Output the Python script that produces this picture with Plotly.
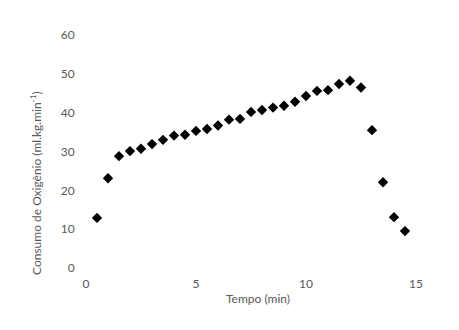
import plotly.graph_objects as go

# Oxygen uptake measured every 30 s during the test
tempo_min = [0.5, 1.0, 1.5, 2.0, 2.5, 3.0, 3.5, 4.0, 4.5, 5.0,
             5.5, 6.0, 6.5, 7.0, 7.5, 8.0, 8.5, 9.0, 9.5, 10.0,
             10.5, 11.0, 11.5, 12.0, 12.5, 13.0, 13.5, 14.0, 14.5]
consumo_o2 = [12.9, 23.1, 28.8, 30.1, 30.7, 31.9, 33.0, 34.1, 34.3, 35.3,
              35.8, 36.7, 38.2, 38.4, 40.2, 40.7, 41.3, 41.8, 42.8, 44.3,
              45.6, 45.8, 47.4, 48.2, 46.5, 35.5, 22.1, 13.1, 9.5]

x_ticks = [0, 5, 10, 15]
y_ticks = [0, 10, 20, 30, 40, 50, 60]

font_family = "Lato, Carlito, Calibri, sans-serif"
grey = "#595959"

fig = go.Figure(
    go.Scatter(
        x=tempo_min,
        y=consumo_o2,
        mode="markers",
        marker=dict(symbol="diamond", size=8, color="black", line=dict(width=0)),
        showlegend=False,
    )
)

fig.update_layout(
    width=459,
    height=330,
    margin=dict(l=86, r=43, t=35, b=62),
    paper_bgcolor="white",
    plot_bgcolor="white",
    font=dict(family=font_family, size=12, color=grey),
    xaxis=dict(
        range=[0, 15],
        tickvals=x_ticks,
        showgrid=False,
        zeroline=False,
        showline=False,
        ticks="outside",
        ticklen=5,
        tickcolor="rgba(0,0,0,0)",
        tickfont=dict(size=12, color=grey),
    ),
    yaxis=dict(
        range=[0, 60],
        tickvals=y_ticks,
        showgrid=False,
        zeroline=False,
        showline=False,
        ticks="outside",
        ticklen=8,
        tickcolor="rgba(0,0,0,0)",
        tickfont=dict(size=12, color=grey),
    ),
    annotations=[
        dict(
            text="Tempo (min)",
            xref="paper", yref="paper",
            x=(258 - 86) / 330, y=-(298 - 268) / 233,
            xanchor="center", yanchor="middle",
            showarrow=False,
            font=dict(size=12, color=grey),
        ),
        dict(
            text="Consumo de Oxigênio (ml.kg.min<sup>-1</sup>)",
            xref="paper", yref="paper",
            x=(36 - 86) / 330, y=(268 - 183) / 233,
            xanchor="center", yanchor="middle",
            textangle=-90,
            showarrow=False,
            font=dict(size=12, color=grey),
        ),
    ],
)

fig.write_html("out.html")
